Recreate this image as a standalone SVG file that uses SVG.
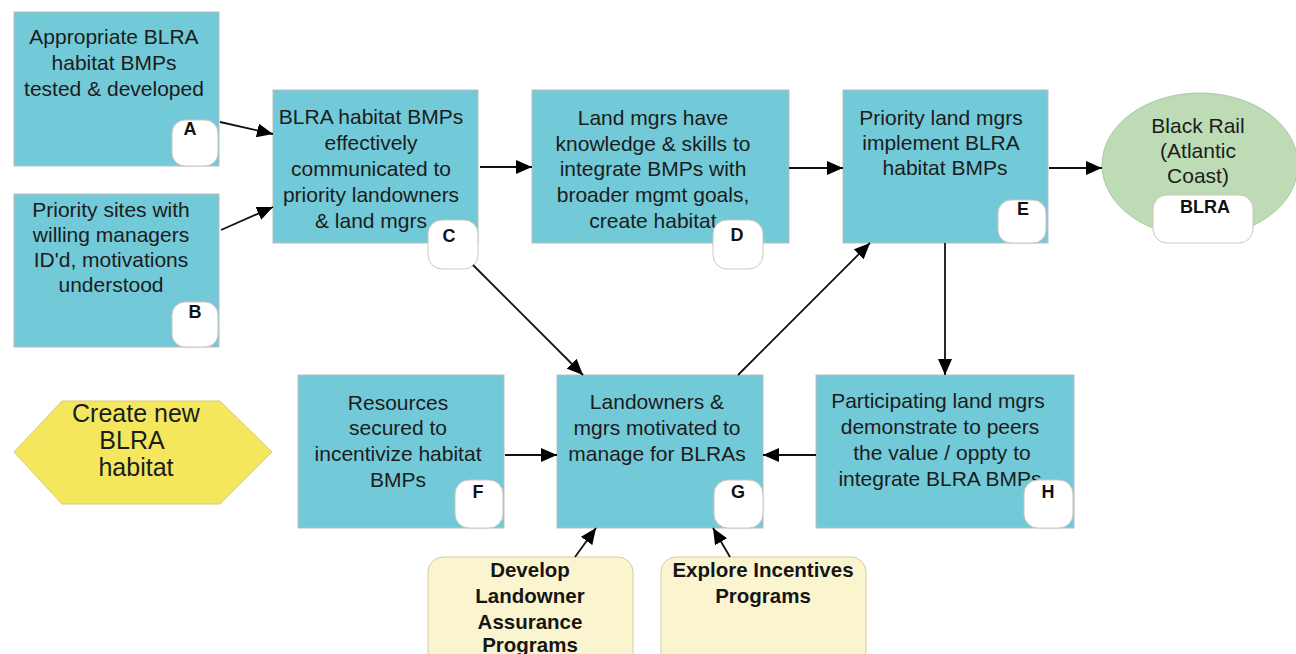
<svg xmlns="http://www.w3.org/2000/svg" width="1296" height="654" viewBox="0 0 1296 654">
  <style>
    .box { fill: #72c9d7; stroke: #bcbcbc; stroke-width: 1; }
    .badge { fill: #ffffff; stroke: #cfc6bd; stroke-width: 1; }
    .prog { fill: #faf5cf; stroke: #d6cba3; stroke-width: 1; }
    .t { font-family: "Liberation Sans", Arial, sans-serif; font-size: 21px; fill: #1c1c1c; text-anchor: middle; }
    .b { font-family: "Liberation Sans", Arial, sans-serif; font-size: 18px; font-weight: bold; fill: #111; text-anchor: middle; }
    .pb { font-family: "Liberation Sans", Arial, sans-serif; font-size: 20.5px; font-weight: bold; fill: #151515; text-anchor: middle; }
    .big { font-family: "Liberation Sans", Arial, sans-serif; font-size: 25px; fill: #1c1c1c; text-anchor: middle; }
    .link { stroke: #111; stroke-width: 1.8; fill: none; marker-end: url(#head); }
  </style>
  <defs>
    <marker id="head" viewBox="0 0 16 14" refX="16" refY="7" markerWidth="16" markerHeight="14" markerUnits="userSpaceOnUse" orient="auto">
      <path d="M0,0 L16,7 L0,14 Z" fill="#000"/>
    </marker>
  </defs>
  <rect width="1296" height="654" fill="#ffffff"/>

  <!-- A -->
  <g id="node-A">
    <rect class="box" x="14" y="12" width="205" height="154"/>
    <text class="t" x="114" y="44">Appropriate BLRA</text>
    <text class="t" x="114" y="70">habitat BMPs</text>
    <text class="t" x="114" y="96">tested &amp; developed</text>
    <rect class="badge" x="172" y="120" width="46" height="46" rx="13"/>
    <text class="b" x="190" y="135">A</text>
  </g>

  <!-- B -->
  <g id="node-B">
    <rect class="box" x="14" y="194" width="205" height="153"/>
    <text class="t" x="111" y="217">Priority sites with</text>
    <text class="t" x="111" y="242">willing managers</text>
    <text class="t" x="111" y="267">ID'd, motivations</text>
    <text class="t" x="111" y="292">understood</text>
    <rect class="badge" x="172" y="302" width="46" height="45" rx="13"/>
    <text class="b" x="195" y="318">B</text>
  </g>

  <!-- C -->
  <g id="node-C">
    <rect class="box" x="273" y="90" width="205" height="153"/>
    <text class="t" x="371" y="124">BLRA habitat BMPs</text>
    <text class="t" x="371" y="150">effectively</text>
    <text class="t" x="371" y="176">communicated to</text>
    <text class="t" x="371" y="202">priority landowners</text>
    <text class="t" x="371" y="228">&amp; land mgrs</text>
    <rect class="badge" x="428" y="220" width="50" height="49" rx="14"/>
    <text class="b" x="449" y="242">C</text>
  </g>

  <!-- D -->
  <g id="node-D">
    <rect class="box" x="532" y="90" width="257" height="153"/>
    <text class="t" x="653" y="125">Land mgrs have</text>
    <text class="t" x="653" y="151">knowledge &amp; skills to</text>
    <text class="t" x="653" y="176">integrate BMPs with</text>
    <text class="t" x="653" y="202">broader mgmt goals,</text>
    <text class="t" x="653" y="228">create habitat</text>
    <rect class="badge" x="713" y="220" width="50" height="49" rx="14"/>
    <text class="b" x="737" y="241">D</text>
  </g>

  <!-- E -->
  <g id="node-E">
    <rect class="box" x="843" y="90" width="205" height="153"/>
    <text class="t" x="941" y="125">Priority land mgrs</text>
    <text class="t" x="941" y="150">implement BLRA</text>
    <text class="t" x="945" y="175">habitat BMPs</text>
    <rect class="badge" x="998" y="200" width="48" height="43" rx="13"/>
    <text class="b" x="1023" y="215">E</text>
  </g>

  <!-- Target species -->
  <g id="node-BLRA">
    <ellipse cx="1200" cy="165" rx="98" ry="72" fill="#bddcb5" stroke="#a9c9a3" stroke-width="1"/>
    <text class="t" x="1198" y="133">Black Rail</text>
    <text class="t" x="1198" y="158">(Atlantic</text>
    <text class="t" x="1198" y="183">Coast)</text>
    <rect class="badge" x="1153" y="195" width="100" height="48" rx="14"/>
    <text class="b" x="1205" y="213">BLRA</text>
  </g>

  <!-- Goal -->
  <g id="node-goal">
    <polygon points="14,452 62,401 220,401 272,452 220,504 62,504" fill="#f4e75d" stroke="#d9c97a" stroke-width="1"/>
    <text class="big" x="136" y="422">Create new</text>
    <text class="big" x="132" y="449">BLRA</text>
    <text class="big" x="136" y="476">habitat</text>
  </g>

  <!-- F -->
  <g id="node-F">
    <rect class="box" x="298" y="375" width="206" height="153"/>
    <text class="t" x="398" y="410">Resources</text>
    <text class="t" x="398" y="435">secured to</text>
    <text class="t" x="398" y="461">incentivize habitat</text>
    <text class="t" x="398" y="487">BMPs</text>
    <rect class="badge" x="455" y="480" width="48" height="48" rx="14"/>
    <text class="b" x="478" y="498">F</text>
  </g>

  <!-- G -->
  <g id="node-G">
    <rect class="box" x="557" y="375" width="206" height="153"/>
    <text class="t" x="657" y="409">Landowners &amp;</text>
    <text class="t" x="657" y="435">mgrs motivated to</text>
    <text class="t" x="657" y="461">manage for BLRAs</text>
    <rect class="badge" x="714" y="480" width="49" height="48" rx="14"/>
    <text class="b" x="738" y="498">G</text>
  </g>

  <!-- H -->
  <g id="node-H">
    <rect class="box" x="816" y="375" width="258" height="153"/>
    <text class="t" x="938" y="408">Participating land mgrs</text>
    <text class="t" x="940" y="434">demonstrate to peers</text>
    <text class="t" x="942" y="460">the value / oppty to</text>
    <text class="t" x="940" y="486">integrate BLRA BMPs</text>
    <rect class="badge" x="1024" y="480" width="49" height="48" rx="14"/>
    <text class="b" x="1048" y="498">H</text>
  </g>

  <!-- Strategies -->
  <g id="node-assurance">
    <rect class="prog" x="428" y="557" width="205" height="130" rx="15"/>
    <text class="pb" x="530" y="577">Develop</text>
    <text class="pb" x="530" y="603">Landowner</text>
    <text class="pb" x="530" y="629">Assurance</text>
    <text class="pb" x="530" y="652">Programs</text>
  </g>
  <g id="node-incentives">
    <rect class="prog" x="661" y="557" width="205" height="130" rx="15"/>
    <text class="pb" x="763" y="577">Explore Incentives</text>
    <text class="pb" x="763" y="603">Programs</text>
  </g>

  <!-- Connectors -->
  <g id="connectors">
    <line class="link" x1="220" y1="122" x2="273" y2="134"/>
    <line class="link" x1="221" y1="230" x2="273" y2="207"/>
    <line class="link" x1="480" y1="167" x2="532" y2="167"/>
    <line class="link" x1="789" y1="168" x2="843" y2="168"/>
    <line class="link" x1="1049" y1="168" x2="1102" y2="168"/>
    <line class="link" x1="473" y1="265" x2="583" y2="375"/>
    <line class="link" x1="738" y1="375" x2="870" y2="243"/>
    <line class="link" x1="945" y1="243" x2="945" y2="375"/>
    <line class="link" x1="816" y1="455" x2="763" y2="455"/>
    <line class="link" x1="505" y1="455" x2="557" y2="455"/>
    <line class="link" x1="575" y1="557" x2="596" y2="528"/>
    <line class="link" x1="730" y1="557" x2="713" y2="528"/>
  </g>
</svg>
